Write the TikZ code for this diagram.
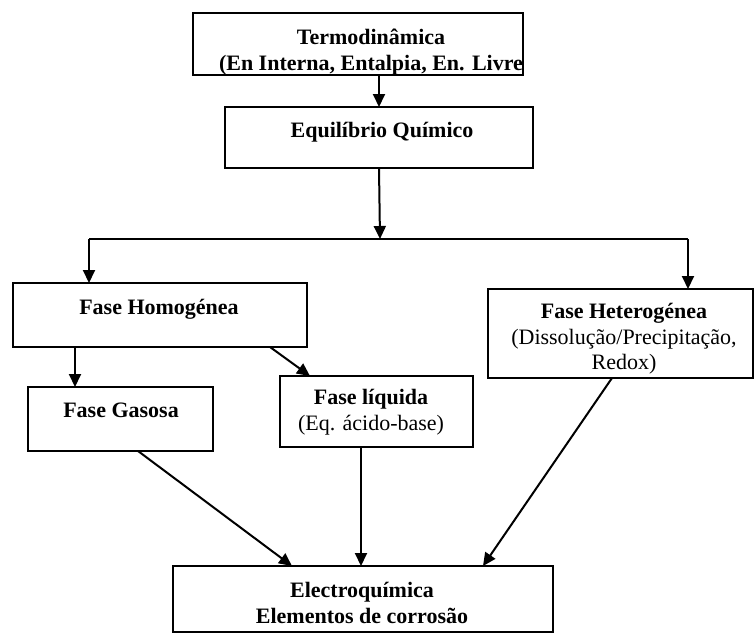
\documentclass[tikz,border=0pt]{standalone}
\usepackage{fontspec}
\setmainfont{Liberation Serif}
\usetikzlibrary{arrows.meta}
\begin{document}
\begin{tikzpicture}[x=1pt,y=-1pt,
  box/.style={draw,line width=2pt,rectangle,inner sep=0pt,outer sep=0pt},
  txt/.style={align=center,inner sep=0pt,font=\fontsize{22}{25.5}\selectfont},
  arr/.style={line width=2pt,-{Triangle[length=13pt,width=12pt]}},
  ln/.style={line width=2pt}]
\useasboundingbox (0,0) rectangle (756,640);
% boxes
\node[box,minimum width=330pt,minimum height=62pt] (termo) at (358,44) {};
\node[box,minimum width=308pt,minimum height=61pt] (equil) at (379,137.5) {};
\node[box,minimum width=294pt,minimum height=64pt] (homo) at (160,315) {};
\node[box,minimum width=265pt,minimum height=89pt] (hetero) at (620.5,333.5) {};
\node[box,minimum width=185pt,minimum height=64pt] (gas) at (120.5,419) {};
\node[box,minimum width=193pt,minimum height=71pt] (liq) at (376.5,411.5) {};
\node[box,minimum width=380pt,minimum height=66pt] (elec) at (363,599) {};
% texts
\node[txt] (ttermo) at (371,52) {\textbf{Termodinâmica}\\\textbf{(En Interna, Entalpia, En. Livre}};
\node[txt] (tequil) at (382,132) {\textbf{Equilíbrio Químico}};
\node[txt] (thomo) at (159,309) {\textbf{Fase Homogénea}};
\node[txt] (tgas) at (121,410) {\textbf{Fase Gasosa}};
\node[txt] (tliq) at (371,412) {\textbf{Fase líquida}\\(Eq. ácido-base)};
\node[txt] (thetero) at (624,339) {\textbf{Fase Heterogénea}\\(Dissolução/Precipitação,\\Redox)};
\node[txt] (telec) at (362,603) {\textbf{Electroquímica}\\\textbf{Elementos de corrosão}};
% junction coordinates
\coordinate (j) at (380,239);
\coordinate (jl) at (89,239);
\coordinate (jr) at (688,239);
% connectors
\draw[arr] (equil.north |- termo.south) -- (equil.north);
\draw[arr] (equil.south) -- (j);
\draw[ln] (jl) -- (jr);
\draw[arr] (jl) -- (jl |- homo.north);
\draw[arr] (jr) -- (jr |- hetero.north);
\coordinate (hg) at (75,0);
\draw[arr] (hg |- homo.south) -- (hg |- gas.north);
\coordinate (hl1) at (270,0);
\coordinate (hl2) at (310,0);
\draw[arr] (hl1 |- homo.south) -- (hl2 |- liq.north);
\coordinate (ge1) at (138,0);
\coordinate (ge2) at (292,0);
\draw[arr] (ge1 |- gas.south) -- (ge2 |- elec.north);
\coordinate (le) at (361,0);
\draw[arr] (le |- liq.south) -- (le |- elec.north);
\coordinate (he1) at (612,0);
\coordinate (he2) at (483,0);
\draw[arr] (he1 |- hetero.south) -- (he2 |- elec.north);
\end{tikzpicture}
\end{document}
